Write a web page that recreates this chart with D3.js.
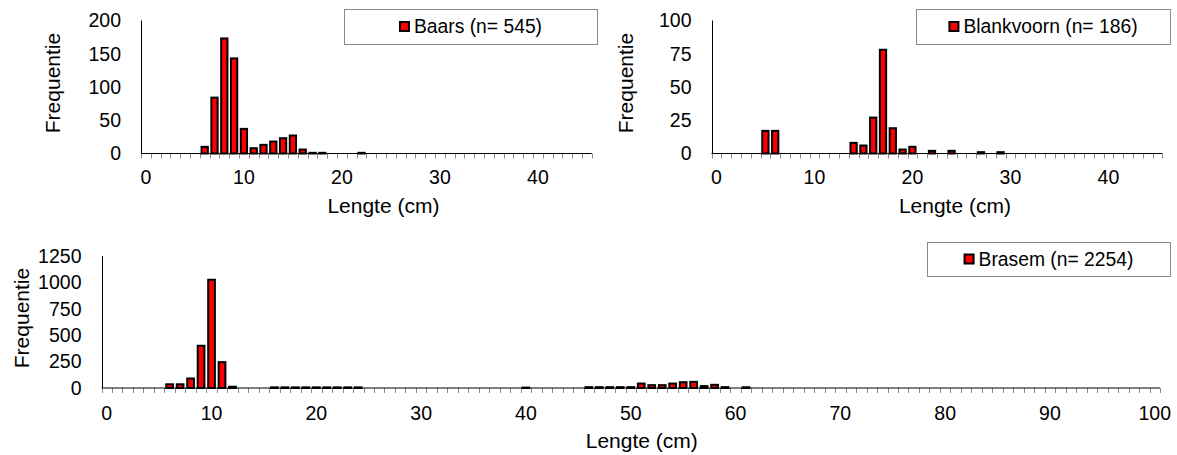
<!DOCTYPE html>
<html>
<head>
<meta charset="utf-8">
<script src="https://cdn.jsdelivr.net/npm/d3@7"></script>
<style>
  body { margin: 0; background: #fff; }
  svg { display: block; font-family: "Liberation Sans", Arial, sans-serif; }
</style>
</head>
<body>
<svg id="grafiek" width="1177" height="455"></svg>
<script>
// ---- DATOS ----
// Baars (n = 545)
var baarsLengte = [6, 7, 8, 9, 10, 11, 12, 13, 14, 15, 16, 17, 18, 22];
var baarsAantal = [10, 84, 173, 143, 37, 8, 13, 18, 23, 27, 6, 1, 1, 1];

// Blankvoorn (n = 186)
var blankvoornLengte = [5, 6, 14, 15, 16, 17, 18, 19, 20, 22, 24, 27, 29];
var blankvoornAantal = [17, 17, 8, 6, 27, 78, 19, 3, 5, 2, 2, 1, 1];

// Brasem (n = 2254)
var brasemLengte = [6, 7, 8, 9, 10, 11, 12, 16, 17, 18, 19, 20, 21, 22, 23, 24, 40,
  46, 47, 48, 49, 50, 51, 52, 53, 54, 55, 56, 57, 58, 59, 61];
var brasemAantal = [35, 35, 90, 400, 1025, 245, 12, 6, 6, 6, 6, 6, 6, 6, 6, 6, 4,
  8, 8, 8, 8, 8, 42, 27, 27, 42, 55, 58, 18, 30, 8, 7];

// ejes
var klasseBoven = d3.range(0, 46);      // lengteklassen 0..45
var klasseOnder = d3.range(0, 101);     // lengteklassen 0..100
var xTicksBoven = [0, 10, 20, 30, 40];
var xTicksOnder = [0, 10, 20, 30, 40, 50, 60, 70, 80, 90, 100];
var yTicksBaars = [0, 50, 100, 150, 200];
var yTicksBlankvoorn = [0, 25, 50, 75, 100];
var yTicksBrasem = [0, 250, 500, 750, 1000, 1250];

var svg = d3.select('#grafiek');
var fontSize = 19.5;     // etiquetas de los ejes
var titelSize = 21;      // titulos de los ejes
var legendSize = 19.3;

function dibujarPanel(p) {
  var x = d3.scaleBand().domain(p.klassen).range([p.x0, p.x1]).padding(0);
  var y = d3.scaleLinear().domain([0, p.ymax]).range([p.yBase, p.yTop]);
  var g = svg.append('g');

  // marcas del eje X (entre categorias)
  var grenzen = p.klassen.map(function (k) { return x(k); }).concat([p.x1]);
  g.selectAll('line.tick')
    .data(grenzen)
    .enter().append('line')
    .attr('x1', function (d) { return Math.round(d) + 0.5; })
    .attr('x2', function (d) { return Math.round(d) + 0.5; })
    .attr('y1', p.yBase)
    .attr('y2', p.yBase + 5)
    .attr('stroke', '#8a8a8a')
    .attr('stroke-width', 1);

  // barras
  var bw = x.bandwidth() * 0.64;
  g.selectAll('rect.bar')
    .data(p.lengte.map(function (l, i) { return [l, p.aantal[i]]; }))
    .enter().append('rect')
    .attr('x', function (d) { return x(d[0]) + (x.bandwidth() - bw) / 2; })
    .attr('y', function (d) { return y(d[1]); })
    .attr('width', bw)
    .attr('height', function (d) { return p.yBase - y(d[1]); })
    .attr('fill', '#ff0000')
    .attr('stroke', '#000')
    .attr('stroke-width', 2);

  // ejes
  g.append('line')
    .attr('x1', Math.round(p.x0) + 0.5).attr('x2', Math.round(p.x0) + 0.5)
    .attr('y1', p.yTop).attr('y2', p.yBase)
    .attr('stroke', '#000').attr('stroke-width', 1);
  g.append('line')
    .attr('x1', p.x0).attr('x2', p.x1)
    .attr('y1', p.yBase).attr('y2', p.yBase)
    .attr('stroke', '#000').attr('stroke-width', 1);

  // etiquetas eje Y
  g.selectAll('text.ytick')
    .data(p.yTicks)
    .enter().append('text')
    .attr('x', p.x0 - 20)
    .attr('y', function (d) { return y(d); })
    .attr('dy', '0.35em')
    .attr('text-anchor', 'end')
    .attr('font-size', fontSize)
    .attr('fill', '#000')
    .text(function (d) { return d; });

  // etiquetas eje X
  g.selectAll('text.xtick')
    .data(p.xTicks)
    .enter().append('text')
    .attr('x', function (d) { return x(d) + x.bandwidth() / 2; })
    .attr('y', p.xLabelY)
    .attr('text-anchor', 'middle')
    .attr('font-size', fontSize)
    .attr('fill', '#000')
    .text(function (d) { return d; });

  // titulos
  g.append('text')
    .attr('x', (p.x0 + p.x1) / 2 + p.titelDx)
    .attr('y', p.titelY)
    .attr('text-anchor', 'middle')
    .attr('font-size', titelSize)
    .text('Lengte (cm)');

  g.append('text')
    .attr('transform', 'translate(' + p.yTitelX + ',' + ((p.yTop + p.yBase) / 2 - 4) + ') rotate(-90)')
    .attr('dy', '0.35em')
    .attr('text-anchor', 'middle')
    .attr('font-size', titelSize)
    .text('Frequentie');

  // leyenda
  var lg = g.append('g');
  lg.append('rect')
    .attr('x', p.legenda[0] + 0.5).attr('y', p.legenda[1] + 0.5)
    .attr('width', p.legenda[2]).attr('height', p.legenda[3])
    .attr('fill', '#fff').attr('stroke', '#8a8a8a').attr('stroke-width', 1);
  var t = lg.append('text')
    .attr('y', p.legenda[1] + p.legenda[3] / 2)
    .attr('dy', '0.35em')
    .attr('font-size', legendSize)
    .text(p.naam);
  var tw = t.node().getComputedTextLength();
  var totaal = 11 + 4 + tw;
  var start = p.legenda[0] + (p.legenda[2] - totaal) / 2;
  lg.append('rect')
    .attr('x', start + 1).attr('y', p.legenda[1] + p.legenda[3] / 2 - 4.5)
    .attr('width', 9).attr('height', 9)
    .attr('fill', '#ff0000').attr('stroke', '#000').attr('stroke-width', 2);
  t.attr('x', start + 15);
}

var panelen = [
  { naam: 'Baars (n= 545)', lengte: baarsLengte, aantal: baarsAantal, klassen: klasseBoven,
    xTicks: xTicksBoven, yTicks: yTicksBaars, ymax: 200,
    x0: 141, x1: 591.8, yTop: 20.5, yBase: 153.5, xLabelY: 184, titelY: 213, titelDx: 17,
    yTitelX: 53, legenda: [344, 9, 253, 35] },
  { naam: 'Blankvoorn (n= 186)', lengte: blankvoornLengte, aantal: blankvoornAantal, klassen: klasseBoven,
    xTicks: xTicksBoven, yTicks: yTicksBlankvoorn, ymax: 100,
    x0: 711.5, x1: 1162.3, yTop: 20.5, yBase: 153.5, xLabelY: 184, titelY: 213, titelDx: 18,
    yTitelX: 626, legenda: [916, 9, 254, 35] },
  { naam: 'Brasem (n= 2254)', lengte: brasemLengte, aantal: brasemAantal, klassen: klasseOnder,
    xTicks: xTicksOnder, yTicks: yTicksBrasem, ymax: 1250,
    x0: 101.5, x1: 1160, yTop: 256, yBase: 388, xLabelY: 420, titelY: 447.5, titelDx: 11,
    yTitelX: 22, legenda: [927, 242, 243, 34] }
];

panelen.forEach(dibujarPanel);
</script>
</body>
</html>
